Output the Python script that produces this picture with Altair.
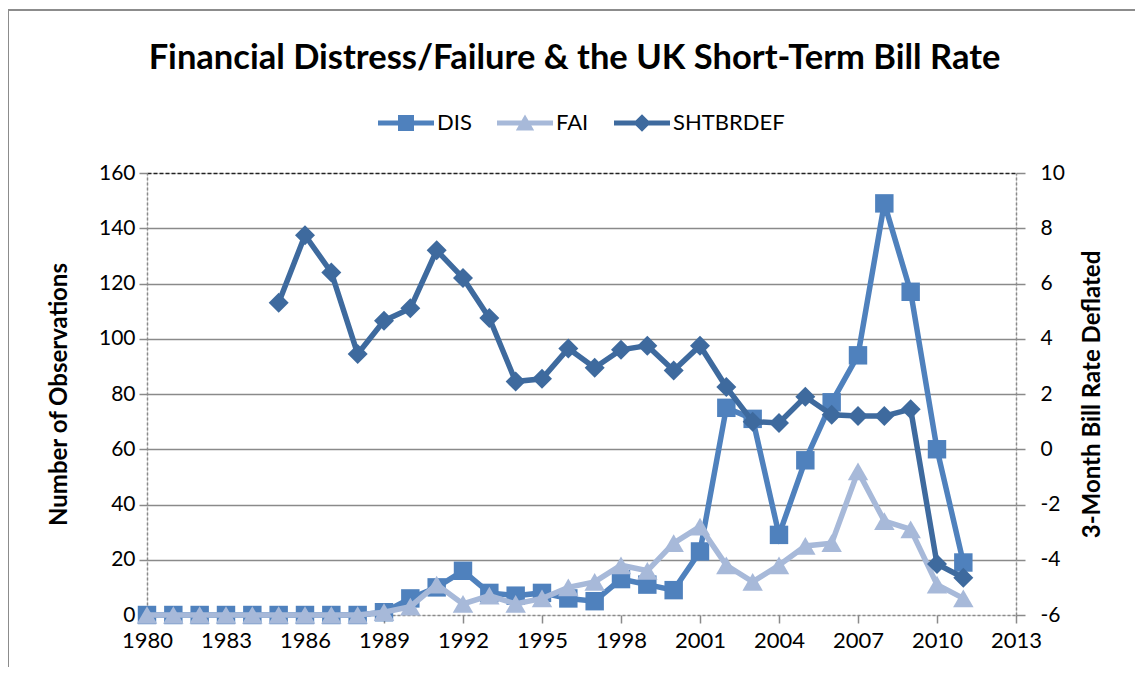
import altair as alt
import pandas as pd

# ---- data ----
years = list(range(1980, 2012))
dis = [0, 0, 0, 0, 0, 0, 0, 0, 0, 1, 6, 10, 16, 8, 7, 8, 6, 5, 13, 11, 9, 23,
       75, 71, 29, 56, 77, 94, 149, 117, 60, 19]
fai = [0, 0, 0, 0, 0, 0, 0, 0, 0, 1, 3, 11, 4, 7, 4, 6, 10, 12, 18, 16, 26, 32,
       18, 12, 18, 25, 26, 52, 34, 31, 11, 6]
sht_years = list(range(1985, 2012))
sht = [5.3, 7.75, 6.4, 3.45, 4.65, 5.1, 7.2, 6.2, 4.75, 2.45, 2.55, 3.65, 2.95,
       3.6, 3.75, 2.85, 3.75, 2.25, 1.0, 0.95, 1.9, 1.25, 1.2, 1.2, 1.45,
       -4.15, -4.65]

series_names = ["DIS", "FAI", "SHTBRDEF"]
series_colors = ["#4F81BD", "#A7B9D9", "#3E6A9E"]
x_ticks = list(range(1980, 2014, 3))
left_ticks = list(range(0, 161, 20))
right_ticks = list(range(-6, 11, 2))

title_text = "Financial Distress/Failure & the UK Short-Term Bill Rate"
left_title = "Number of Observations"
right_title = "3-Month Bill Rate Deflated"

FONT = "Lato"
W, H = 869, 442
GRID = "#8a8a8a"

df_dis = pd.DataFrame({"year": years, "value": dis})
df_fai = pd.DataFrame({"year": years, "value": fai})
df_sht = pd.DataFrame({"year": sht_years, "rate": sht})
df_leg = pd.DataFrame({"series": series_names, "year": [1980] * 3, "value": [0] * 3})

x_enc = alt.X(
    "year:Q",
    scale=alt.Scale(domain=[1980, 2013], nice=False, zero=False),
    axis=alt.Axis(
        values=x_ticks, format="d", title=None, grid=False,
        labelFlush=False, labelOverlap=False,
        tickSize=8, tickColor=GRID, tickWidth=1.5,
        domainColor=GRID, domainDash=[3, 2], domainWidth=1.5,
        labelFont=FONT, labelFontSize=22, labelColor="#000", labelPadding=7,
    ),
)

y_left = alt.Y(
    "value:Q",
    scale=alt.Scale(domain=[0, 160], nice=False),
    axis=alt.Axis(
        values=left_ticks, title=left_title,
        titleFont=FONT, titleFontSize=24, titleFontWeight="bold", titleColor="#000",
        titlePadding=27,
        grid=True, gridWidth=1.5,
        gridColor=alt.condition("datum.value == 160", alt.value("#222222"), alt.value(GRID)),
        gridDash=alt.condition("datum.value == 160", alt.value([4, 2]), alt.value([])),
        gridOpacity=alt.condition("datum.value == 0", alt.value(0), alt.value(1)),
        tickSize=8, tickColor=GRID, tickWidth=1.5,
        domainColor=GRID, domainDash=[3, 2], domainWidth=1.5,
        labelFont=FONT, labelFontSize=21, labelColor="#000", labelPadding=4,
    ),
)

y_right = alt.Y(
    "rate:Q",
    scale=alt.Scale(domain=[-6, 10], nice=False, zero=False),
    axis=alt.Axis(
        orient="right", values=right_ticks, title=right_title,
        labelExpr="'' + datum.value",
        titleFont=FONT, titleFontSize=24, titleFontWeight="bold", titleColor="#000",
        titleAngle=270, titleBaseline="top", titlePadding=16,
        grid=False,
        tickSize=9, tickColor=GRID, tickWidth=1.5,
        domainColor=GRID, domainDash=[3, 2], domainWidth=1.5,
        labelFont=FONT, labelFontSize=21, labelColor="#000", labelPadding=15,
    ),
)

LW = 5.5

dis_line = alt.Chart(df_dis).mark_line(color=series_colors[0], strokeWidth=LW).encode(x=x_enc, y=y_left)
dis_pts = alt.Chart(df_dis).mark_point(shape="square", filled=True, size=340, opacity=1,
                                       color=series_colors[0]).encode(x="year:Q", y="value:Q")
fai_line = alt.Chart(df_fai).mark_line(color=series_colors[1], strokeWidth=LW).encode(x="year:Q", y="value:Q")
fai_pts = alt.Chart(df_fai).mark_point(shape="triangle-up", filled=True, size=420, opacity=1,
                                       color=series_colors[1]).encode(x="year:Q", y="value:Q")

# legend symbols: line segment with marker
leg_shapes = [
    "M-3.5,-0.32H3.5V0.32H-3.5Z M-1,-1H1V1H-1Z",
    "M-3.5,-0.32H3.5V0.32H-3.5Z M0,-1.05L1.15,0.95H-1.15Z",
    "M-3.5,-0.32H3.5V0.32H-3.5Z M0,-1.1L1.1,0L0,1.1L-1.1,0Z",
]
legend = alt.Legend(
    title=None, orient="none", legendX=248, legendY=-61, direction="horizontal",
    symbolSize=256, labelOffset=20, columnPadding=25,
    labelFont=FONT, labelFontSize=22, labelColor="#000", symbolStrokeWidth=0,
    symbolOpacity=1,
)
leg_layer = alt.Chart(df_leg).transform_filter("false").mark_point(filled=True, opacity=1).encode(
    x="year:Q", y="value:Q",
    color=alt.Color("series:N", scale=alt.Scale(domain=series_names, range=series_colors), legend=legend),
    shape=alt.Shape("series:N", scale=alt.Scale(domain=series_names, range=leg_shapes), legend=legend),
)

frame = alt.Chart(pd.DataFrame({"k": [0]})).mark_rect(
    fill=None, stroke="#8c8c8c", strokeWidth=2
).encode(
    x=alt.value(-139), x2=alt.value(993), y=alt.value(-163), y2=alt.value(600)
)

left = alt.layer(frame, dis_line, dis_pts, fai_line, fai_pts, leg_layer)

sht_line = alt.Chart(df_sht).mark_line(color=series_colors[2], strokeWidth=LW).encode(
    x="year:Q", y=y_right)
sht_pts = alt.Chart(df_sht).mark_point(shape="diamond", filled=True, size=400, opacity=1,
                                       color=series_colors[2]).encode(x="year:Q", y="rate:Q")
right = alt.layer(sht_line, sht_pts)

chart = alt.layer(left, right).resolve_scale(y="independent").properties(
    width=W, height=H,
    title=alt.TitleParams(title_text, font=FONT, fontSize=34.5, fontWeight="bold",
                          color="#000", anchor="middle", offset=-67, dx=-7),
    autosize=alt.AutoSizeParams(type="none"),
    padding={"left": 139, "top": 165, "right": 119, "bottom": 52},
).configure_view(stroke=None).configure(background="white")

chart.save("out.html", embed_options={"renderer": "svg", "actions": False})
